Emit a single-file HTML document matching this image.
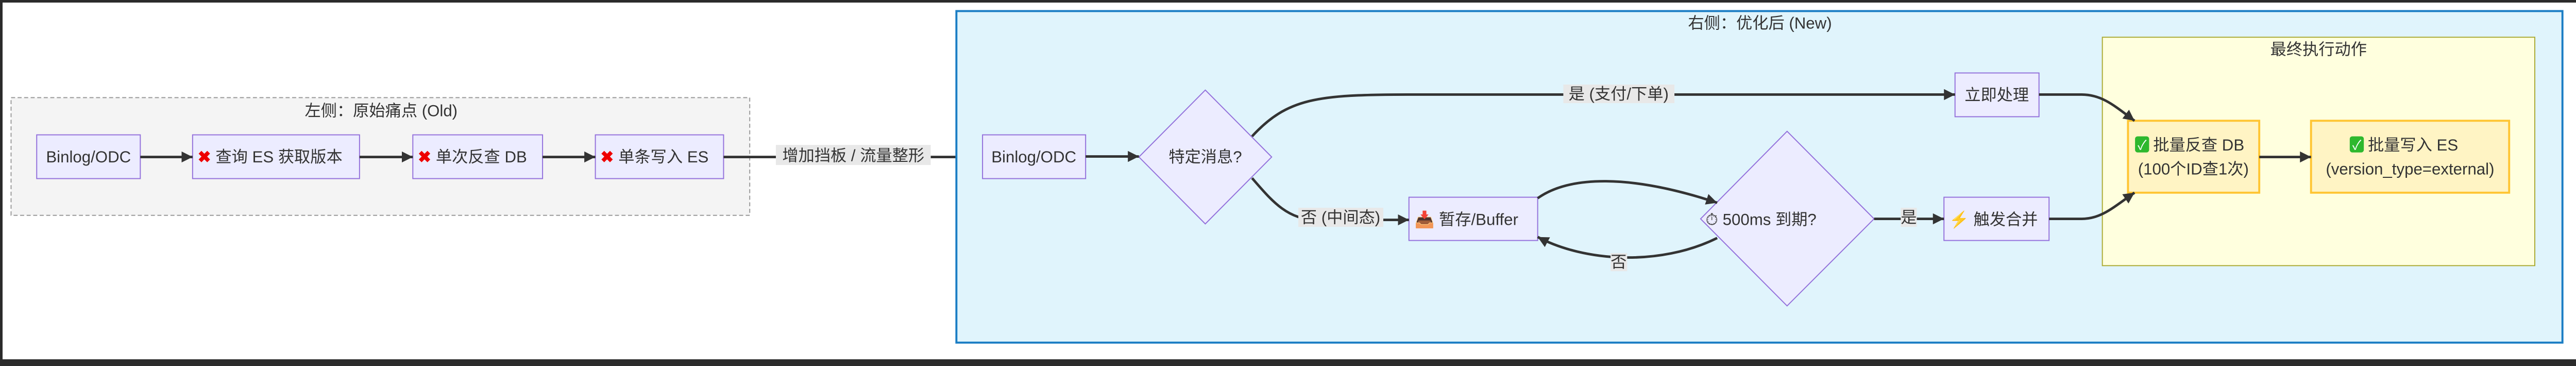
<!DOCTYPE html>
<html><head><meta charset="utf-8"><style>
html,body{margin:0;padding:0;background:#fff}
svg{display:block}
text{font-family:"Liberation Sans","Noto Sans CJK SC",sans-serif;fill:#333}
</style></head><body>
<svg width="5116" height="710" viewBox="0 0 5116 710" xmlns="http://www.w3.org/2000/svg">
<defs>
<marker id="ar" markerUnits="userSpaceOnUse" markerWidth="26" markerHeight="26" refX="22" refY="11" orient="auto">
<path d="M0,0 L22,11 L0,22 Z" fill="#333"/></marker>
<clipPath id="c1"><rect x="383" y="268" width="330" height="87"/></clipPath>
<clipPath id="c2"><rect x="821" y="268" width="250" height="87"/></clipPath>
<clipPath id="c3"><rect x="1184" y="268" width="247" height="87"/></clipPath>
<clipPath id="c4"><rect x="2802" y="392" width="250" height="86"/></clipPath>
<clipPath id="c5"><rect x="3382" y="261" width="330" height="347"/></clipPath>
<clipPath id="c6"><rect x="4232" y="240" width="255" height="143"/></clipPath>
</defs>
<rect x="0" y="0" width="5116" height="5" fill="#2b2b2b"/>
<rect x="0" y="697" width="5116" height="13" fill="#2b2b2b"/>
<rect x="0" y="0" width="5" height="710" fill="#2b2b2b"/>
<rect x="5108" y="0" width="8" height="710" fill="#2b2b2b"/>

<g transform="scale(0.976)">
<rect x="22" y="194" width="1469" height="234" fill="#f4f4f4" stroke="#999" stroke-width="2" stroke-dasharray="8,5"/>
<text x="758" y="231" font-size="32" text-anchor="middle">左侧：原始痛点 (Old)</text>
<g fill="#ececff" stroke="#9370db" stroke-width="2">
<rect x="73" y="268" width="206" height="87"/>
<rect x="383" y="268" width="332" height="87"/>
<rect x="821" y="268" width="258" height="87"/>
<rect x="1184" y="268" width="255" height="87"/>
</g>
<text x="176" y="323" font-size="32" text-anchor="middle">Binlog/ODC</text>
<g clip-path="url(#c1)"><text x="393" y="323" font-size="32"><tspan fill="#e00" font-weight="bold">✖</tspan> 查询 ES 获取版本</text></g>
<g clip-path="url(#c2)"><text x="831" y="323" font-size="32"><tspan fill="#e00" font-weight="bold">✖</tspan> 单次反查 DB</text></g>
<g clip-path="url(#c3)"><text x="1194" y="323" font-size="32"><tspan fill="#e00" font-weight="bold">✖</tspan> 单条写入 ES</text></g>
<g stroke="#333" stroke-width="5" fill="none">
<path d="M279,312 L383,312" marker-end="url(#ar)"/>
<path d="M715,312 L821,312" marker-end="url(#ar)"/>
<path d="M1079,312 L1184,312" marker-end="url(#ar)"/>
<path d="M1439,312 L1954,312" marker-end="url(#ar)"/>
</g>
<rect x="1543" y="288" width="308" height="40" fill="#e8e8e8"/>
<text x="1697" y="320" font-size="32" text-anchor="middle">增加挡板 / 流量整形</text>

<rect x="1902" y="22" width="3194" height="659" fill="#e0f4fc" stroke="#1a7dc4" stroke-width="4"/>
<text x="3500" y="57" font-size="32" text-anchor="middle">右侧：优化后 (New)</text>
<rect x="4181" y="74" width="860" height="454" fill="#ffffde" stroke="#aaaa33" stroke-width="2"/>
<text x="4611" y="109" font-size="32" text-anchor="middle">最终执行动作</text>

<g fill="#ececff" stroke="#9370db" stroke-width="2">
<rect x="1954" y="268" width="205" height="87"/>
<polygon points="2397,179 2529,312 2397,445 2265,312"/>
<rect x="3888" y="145" width="167" height="87"/>
<rect x="2802" y="392" width="256" height="86"/>
<polygon points="3554,261 3727,435 3554,608 3382,435"/>
<rect x="3866" y="392" width="209" height="86"/>
</g>
<g fill="#fff4c4" stroke="#ffc533" stroke-width="4">
<rect x="4232" y="240" width="261" height="143"/>
<rect x="4596" y="240" width="394" height="143"/>
</g>
<text x="2056" y="323" font-size="32" text-anchor="middle">Binlog/ODC</text>
<text x="2397" y="323" font-size="32" text-anchor="middle">特定消息?</text>
<text x="3971" y="200" font-size="32" text-anchor="middle">立即处理</text>
<g clip-path="url(#c4)"><text x="2813" y="447" font-size="32"><tspan fill="#2a7fd4">📥</tspan> 暂存/Buffer</text></g>
<g clip-path="url(#c5)"><text x="3392" y="447" font-size="32">⏱ 500ms 到期?</text></g>
<text x="3876" y="447" font-size="32"><tspan fill="#f5b800">⚡</tspan> 触发合并</text>
<rect x="4246" y="271" width="28" height="32" rx="5" fill="#2eb82e"/>
<text x="4260" y="297" font-size="26" text-anchor="middle" style="fill:#fff">✓</text>
<g clip-path="url(#c6)"><text x="4282" y="299" font-size="32">批量反查 DB</text></g>
<text x="4362" y="347" font-size="32" text-anchor="middle">(100个ID查1次)</text>
<rect x="4673" y="271" width="28" height="32" rx="5" fill="#2eb82e"/>
<text x="4687" y="297" font-size="26" text-anchor="middle" style="fill:#fff">✓</text>
<text x="4709" y="299" font-size="32">批量写入 ES</text>
<text x="4793" y="347" font-size="32" text-anchor="middle">(version_type=external)</text>

<g stroke="#333" stroke-width="5" fill="none">
<path d="M2159,311 L2265,311" marker-end="url(#ar)"/>
<path d="M2490,271 C2560,195 2620,188 2800,188 L3888,188" marker-end="url(#ar)"/>
<path d="M2490,354 C2530,400 2560,437 2620,437 L2802,437" marker-end="url(#ar)"/>
<path d="M3058,394 C3120,350 3240,345 3415,403" marker-end="url(#ar)"/>
<path d="M3415,473 C3300,530 3150,520 3058,471" marker-end="url(#ar)"/>
<path d="M3727,435 L3866,435" marker-end="url(#ar)"/>
<path d="M4055,188 L4140,188 C4180,188 4205,210 4245,240" marker-end="url(#ar)"/>
<path d="M4075,435 L4140,435 C4180,435 4205,410 4245,383" marker-end="url(#ar)"/>
<path d="M4493,312 L4596,312" marker-end="url(#ar)"/>
</g>
<g fill="#e8e8e8">
<rect x="3109" y="168" width="221" height="37"/>
<rect x="2582" y="413" width="169" height="38"/>
<rect x="3203" y="503" width="33" height="36"/>
<rect x="3780" y="413" width="32" height="38"/>
</g>
<text x="3219" y="198" font-size="32" text-anchor="middle">是 (支付/下单)</text>
<text x="2666" y="443" font-size="32" text-anchor="middle">否 (中间态)</text>
<text x="3219" y="532" font-size="32" text-anchor="middle">否</text>
<text x="3796" y="443" font-size="32" text-anchor="middle">是</text>
</g>
</svg>
</body></html>
